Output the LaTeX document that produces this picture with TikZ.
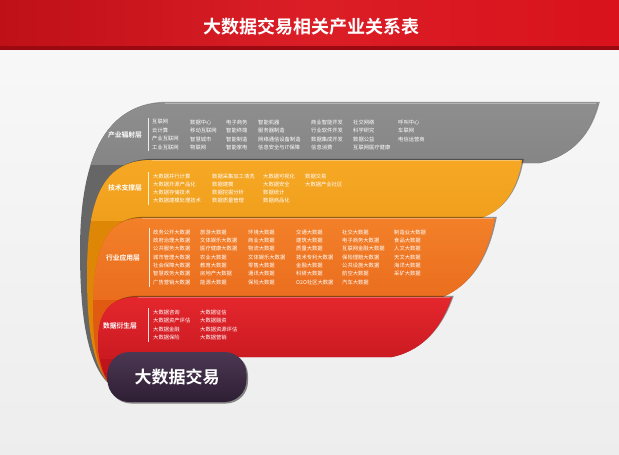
\documentclass[tikz,border=0pt]{standalone}
\usepackage{fontspec}
\newfontfamily\cjk{Noto Sans CJK SC}[BoldFont={Noto Sans CJK SC Bold}]
\usetikzlibrary{shadows}
\definecolor{hdr}{HTML}{D9121B}
\definecolor{hdrdark}{HTML}{9A0A10}
\definecolor{gtop}{HTML}{8E8E8E}
\definecolor{gdark}{HTML}{666666}
\definecolor{otop}{HTML}{F6A824}
\definecolor{odark}{HTML}{DE8606}
\definecolor{rotop}{HTML}{F38029}
\definecolor{rodark}{HTML}{E05A12}
\definecolor{rtop}{HTML}{E4272D}
\definecolor{rdark}{HTML}{C0141C}
\definecolor{pilltop}{HTML}{4C3753}
\definecolor{pillbot}{HTML}{2E1E33}
\tikzset{
  layer/.style={drop shadow={shadow xshift=1.8pt, shadow yshift=1.2pt, opacity=0.4, fill=black}},
  cell/.style={anchor=west, inner sep=0pt, text=white, font=\cjk\fontsize{5.3}{6}\selectfont},
  lab/.style={inner sep=0pt, text=white, font=\cjk\bfseries\fontsize{6.8}{8}\selectfont},
  sepline/.style={draw=white, line width=0.45pt, opacity=0.85},
  pill/.style={rounded corners=22pt, minimum width=139pt, minimum height=50pt, inner sep=0pt,
    top color=pilltop, bottom color=pillbot, text=white,
    font=\cjk\bfseries\fontsize{17}{20}\selectfont,
    drop shadow={shadow xshift=1.5pt, shadow yshift=-1.5pt, opacity=0.45, fill=black}},
}
\newcommand\txtcol[5]{\foreach \t [count=\j] in {#5}{\node[cell] (#1-\j) at (#2,{#3+(\j-1)*#4}) {\t};}}
\begin{document}
\begin{tikzpicture}[x=1pt,y=-1pt]
\useasboundingbox (0,0) rectangle (619,455);
% background
\shade[top color=white!95!gray, bottom color=white!86!gray] (0,0) rectangle (619,455);
% header
\shade[left color=hdr!88!black, right color=hdr, middle color=hdr!95!white] (0,0) rectangle (619,47);
\fill[hdrdark] (0,46) rectangle (619,50);
\node[text=white, font=\cjk\bfseries\fontsize{18}{20}\selectfont] (title) at (311,27) {大数据交易相关产业关系表};

% layer 1 gray
\path[layer, fill=gdark, path picture={\shade[top color=gtop, bottom color=gdark] (0,103) rectangle (619,164);}]
 (110,385) .. controls (88,365) and (80,320) .. (80,250)
 .. controls (80,150) and (110,103) .. (165,103)
 -- (598,103) .. controls (590,135) and (572,156) .. (540,163)
 -- (200,163) -- (200,385) -- cycle;
\draw[white, opacity=0.35, line width=0.8pt] (165,103.6) -- (596,103.6);

% layer 2 orange
\path[layer, fill=odark, path picture={\shade[top color=otop, bottom color=odark] (0,160) rectangle (619,220);}]
 (110,385) .. controls (92,365) and (87,325) .. (87,275)
 .. controls (87,195) and (105,160) .. (152,160)
 -- (522,160) .. controls (517,190) and (503,212) .. (478,219)
 -- (200,219) -- (200,385) -- cycle;
\draw[white, opacity=0.3, line width=0.8pt] (152,160.6) -- (520,160.6);

% layer 3 orange-red
\path[layer, fill=rodark, path picture={\shade[top color=rotop, bottom color=rodark] (0,218) rectangle (619,299);}]
 (110,385) .. controls (96,368) and (93,340) .. (93,310)
 .. controls (93,245) and (108,218) .. (142,218)
 -- (495,218) .. controls (488,255) and (472,286) .. (440,298)
 -- (200,298) -- (200,385) -- cycle;
\draw[white, opacity=0.3, line width=0.8pt] (142,218.6) -- (493,218.6);

% layer 4 red
\path[layer, fill=rdark, path picture={\shade[top color=rtop, bottom color=rdark] (0,297) rectangle (619,358);}]
 (110,385) .. controls (101,372) and (98,355) .. (98,342)
 .. controls (98,312) and (110,297) .. (138,297)
 -- (452,297) .. controls (442,325) and (425,350) .. (392,357)
 -- (200,357) -- (200,385) -- cycle;
\draw[white, opacity=0.3, line width=0.8pt] (138,297.6) -- (450,297.6);

% pill
\node[pill] (pill) at (177,377) {大数据交易};

% labels
\node[lab] (lab1) at (125,135) {产业辐射层};
\node[lab] (lab2) at (125,188) {技术支撑层};
\node[lab] (lab3) at (123,258) {行业应用层};
\node[lab] (lab4) at (120,326) {数据衍生层};
\draw[sepline] (148,118) -- (148,151);
\draw[sepline] (148,172) -- (148,205);
\draw[sepline] (149,228) -- (149,287);
\draw[sepline] (148,308) -- (148,342);

% gray texts
\txtcol{g1}{152}{122}{8.5}{互联网,云计算,产业互联网,工业互联网}
\txtcol{g2}{190}{122}{8.5}{数据中心,移动互联网,智慧城市,物联网}
\txtcol{g3}{226}{122}{8.5}{电子商务,智能终端,智能制造,智能家电}
\txtcol{g4}{258}{122}{8.5}{智能机器,服务器制造,网络通信设备制造,信息安全与IT保障}
\txtcol{g5}{311}{122}{8.5}{商业智能开发,行业软件开发,数据集成开发,信息消费}
\txtcol{g6}{353}{122}{8.5}{社交网络,科学研究,数据公益,互联网医疗健康}
\txtcol{g7}{398}{122}{8.5}{呼叫中心,车联网,电信运营商}

% orange texts
\txtcol{o1}{153}{176}{8.2}{大数据并行计算,大数据开源产品化,大数据存储技术,大数据建模处理技术}
\txtcol{o2}{212}{176}{8.2}{数据采集加工清洗,数据建模,数据挖掘分析,数据质量管理}
\txtcol{o3}{263}{176}{8.2}{大数据可视化,大数据安全,数据统计,数据商品化}
\txtcol{o4}{305}{176}{8.2}{数据交易,大数据产业社区}

% orange-red texts
\txtcol{r1}{153}{232.3}{8.33}{政务公开大数据,政府治理大数据,公共服务大数据,城市管理大数据,社会保障大数据,智慧政务大数据,广告营销大数据}
\txtcol{r2}{200}{232.3}{8.33}{旅游大数据,文体娱乐大数据,医疗健康大数据,农业大数据,教育大数据,房地产大数据,能源大数据}
\txtcol{r3}{248}{232.3}{8.33}{环境大数据,商业大数据,物流大数据,文体娱乐大数据,零售大数据,通讯大数据,保险大数据}
\txtcol{r4}{296}{232.3}{8.33}{交通大数据,建筑大数据,质量大数据,技术专利大数据,金融大数据,科研大数据,O2O社区大数据}
\txtcol{r5}{342}{232.3}{8.33}{社交大数据,电子商务大数据,互联网金融大数据,保险理赔大数据,公共设施大数据,航空大数据,汽车大数据}
\txtcol{r6}{394}{232.3}{8.33}{制造业大数据,食品大数据,人文大数据,天文大数据,海洋大数据,采矿大数据}

% red texts
\txtcol{d1}{153}{312.3}{8.45}{大数据咨询,大数据资产评估,大数据金融,大数据保险}
\txtcol{d2}{200}{312.3}{8.45}{大数据征信,大数据融资,大数据资源评估,大数据营销}
\end{tikzpicture}
\end{document}
